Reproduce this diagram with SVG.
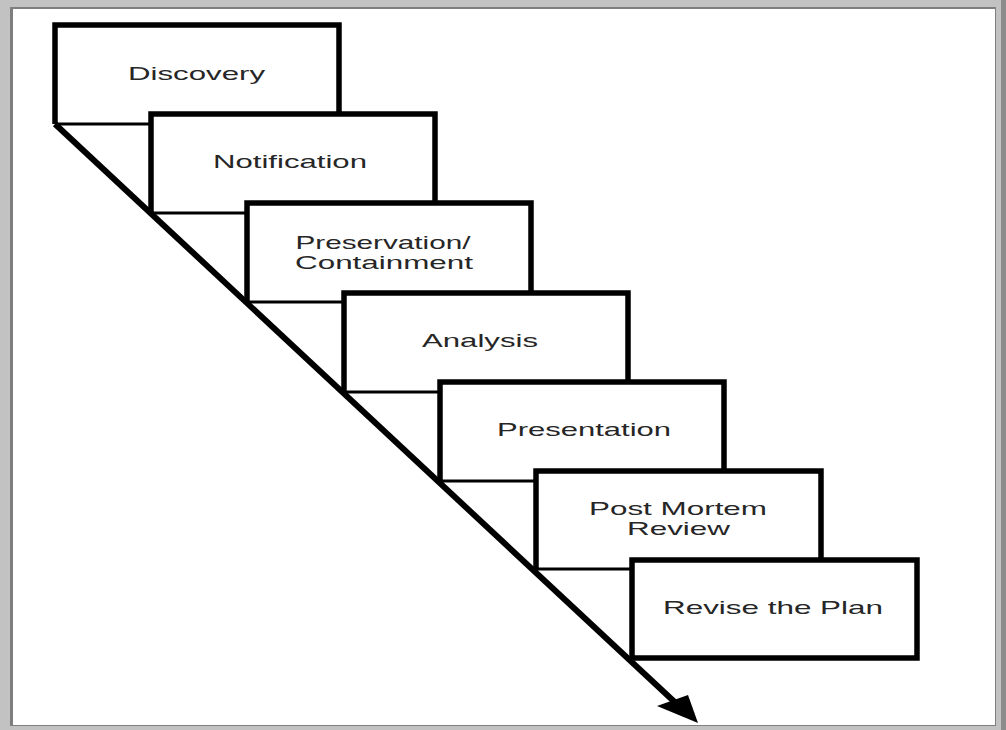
<svg xmlns="http://www.w3.org/2000/svg" width="1006" height="730" viewBox="0 0 1006 730">
<style>
.bg{fill:#fff}
.edge{fill:none;stroke:#000;stroke-width:5.5;stroke-linejoin:miter}
.base{stroke:#000;stroke-width:3}
.lbl{font-family:"Liberation Sans",Arial,sans-serif;font-size:18.2px;fill:#262626;text-anchor:middle}
</style>
<rect width="1006" height="730" fill="#c2c2c2"/>
<rect x="1001" y="0" width="5" height="730" fill="#8c8c8c"/>
<rect x="10" y="7" width="986" height="719" fill="#7e7e7e"/>
<rect x="13" y="9" width="982" height="716" fill="#ffffff"/>

<g id="discovery">
<rect class="bg" x="55" y="25" width="284" height="99"/>
<path class="edge" d="M55,124 V25 H339 V124"/>
<line class="base" x1="55" y1="124" x2="339" y2="124"/>
<text class="lbl" x="196.5" y="80" textLength="137" lengthAdjust="spacingAndGlyphs">Discovery</text>
</g>
<g id="notification">
<rect class="bg" x="151" y="114" width="284" height="99"/>
<path class="edge" d="M151,213 V114 H435 V213"/>
<line class="base" x1="151" y1="213" x2="435" y2="213"/>
<text class="lbl" x="290" y="168" textLength="154" lengthAdjust="spacingAndGlyphs">Notification</text>
</g>
<g id="preservation">
<rect class="bg" x="247" y="203" width="284" height="99"/>
<path class="edge" d="M247,302 V203 H531 V302"/>
<line class="base" x1="247" y1="302" x2="531" y2="302"/>
<text class="lbl" x="383" y="248.5" textLength="175" lengthAdjust="spacingAndGlyphs">Preservation/</text>
<text class="lbl" x="384" y="269" textLength="178" lengthAdjust="spacingAndGlyphs">Containment</text>
</g>
<g id="analysis">
<rect class="bg" x="344" y="293" width="284" height="99"/>
<path class="edge" d="M344,392 V293 H628 V392"/>
<line class="base" x1="344" y1="392" x2="628" y2="392"/>
<text class="lbl" x="480" y="347" textLength="116" lengthAdjust="spacingAndGlyphs">Analysis</text>
</g>
<g id="presentation">
<rect class="bg" x="440" y="382" width="284" height="99"/>
<path class="edge" d="M440,481 V382 H724 V481"/>
<line class="base" x1="440" y1="481" x2="724" y2="481"/>
<text class="lbl" x="584" y="436" textLength="174" lengthAdjust="spacingAndGlyphs">Presentation</text>
</g>
<g id="postmortem">
<rect class="bg" x="536" y="471" width="285" height="98"/>
<path class="edge" d="M536,569 V471 H821 V569"/>
<line class="base" x1="536" y1="569" x2="821" y2="569"/>
<text class="lbl" x="678" y="514.5" textLength="178" lengthAdjust="spacingAndGlyphs">Post Mortem</text>
<text class="lbl" x="678.5" y="535" textLength="103" lengthAdjust="spacingAndGlyphs">Review</text>
</g>
<g id="revise">
<rect class="bg" x="632" y="560" width="285" height="98"/>
<path class="edge" d="M632,658 V560 H917 V658 Z"/>
<text class="lbl" x="773" y="614" textLength="220" lengthAdjust="spacingAndGlyphs">Revise the Plan</text>
</g>

<g id="connectors">
<line x1="55" y1="124" x2="680" y2="707" stroke="#000" stroke-width="6"/>
<polygon points="698,723 657,706 688,695" fill="#000"/>
</g>
</svg>
